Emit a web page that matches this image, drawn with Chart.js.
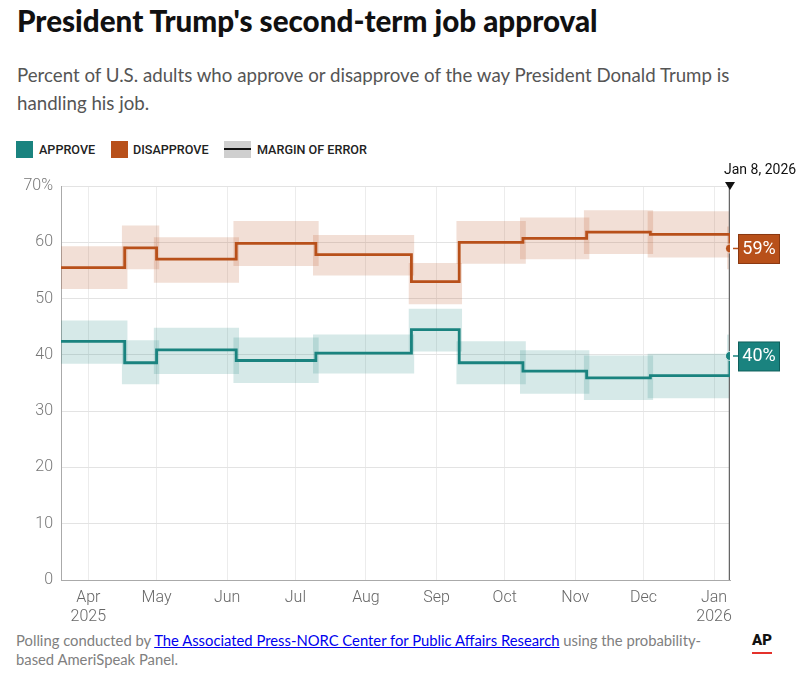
<!DOCTYPE html>
<html>
<head>
<meta charset="utf-8">
<script src="https://cdn.jsdelivr.net/npm/chart.js@4.4.1/dist/chart.umd.min.js"></script>
<style>
  body { margin: 0; width: 807px; height: 676px; position: relative; overflow: hidden; background: #fff; font-family: Lato, "Noto Sans", sans-serif; }
  h1 { position: absolute; left: 17px; top: 3px; margin: 0; font-size: 29.6px; line-height: 36px; font-weight: 900; color: #111; }
  .sub { position: absolute; left: 17px; top: 61px; width: 780px; font-size: 18.7px; line-height: 28px; color: #555; }
  .legend { position: absolute; left: 16px; top: 141px; height: 18px; font-family: Roboto, sans-serif; font-size: 12.6px; font-weight: 500; color: #222; }
  .legend span { position: absolute; top: 0; line-height: 18px; white-space: nowrap; }
  .sw { width: 17px; height: 17px; }
  .moe { width: 27px; height: 17px; background: #cfcfcf; }
  .moe::after { content: ''; position: absolute; left: 0; right: 0; top: 7px; height: 2px; background: #111; }
  #chart { position: absolute; left: 0; top: 162px; }
  .note { position: absolute; left: 16px; top: 631px; font-size: 14.8px; line-height: 19px; color: #808080; white-space: nowrap; }
  .note a { color: #0000ee; }
  .ap { position: absolute; left: 752px; top: 631px; font-family: Roboto, sans-serif; font-weight: 900; font-size: 15px; line-height: 18px; color: #111; }
  .ap::after { content: ''; position: absolute; left: 0; right: 0; top: 21px; height: 2px; background: #e4312b; }
</style>
</head>
<body>
<h1>President Trump's second-term job approval</h1>
<div class="sub">Percent of U.S. adults who approve or disapprove of the way President Donald Trump is<br>handling his job.</div>
<div class="legend">
  <span class="sw" style="left:0; background:#1a837f"></span><span style="left:23px">APPROVE</span>
  <span class="sw" style="left:95px; background:#b8501a"></span><span style="left:117px">DISAPPROVE</span>
  <span class="moe" style="left:208px"></span><span style="left:241px">MARGIN OF ERROR</span>
</div>
<canvas id="chart" width="807" height="468"></canvas>
<div class="note">Polling conducted by <a href="#">The Associated Press-NORC Center for Public Affairs Research</a> using the probability-<br>based AmeriSpeak Panel.</div>
<div class="ap">AP</div>
<script>
// Poll data (field start dates)
const pollDates = ['2025-03-20', '2025-04-17', '2025-05-01', '2025-06-05', '2025-07-10', '2025-08-21',
  '2025-09-11', '2025-10-09', '2025-11-06', '2025-12-04', '2026-01-08'];
const approve = [42.4, 38.6, 40.9, 39.0, 40.3, 44.5, 38.6, 37.1, 35.9, 36.3, 39.8];
const approveLow = [38.4, 34.8, 36.6, 35.0, 36.7, 40.6, 34.8, 33.1, 32.0, 32.3, 36.0];
const approveHigh = [46.1, 42.6, 44.8, 43.1, 43.6, 48.2, 42.4, 40.8, 39.9, 40.2, 43.6];
const disapprove = [55.5, 59.0, 57.0, 59.8, 57.8, 53.0, 60.0, 60.7, 61.8, 61.4, 58.9];
const disapproveLow = [51.7, 55.2, 52.8, 55.8, 54.1, 49.0, 56.2, 57.0, 57.9, 57.3, 55.2];
const disapproveHigh = [59.3, 63.0, 60.9, 63.8, 61.3, 56.3, 63.8, 64.4, 65.7, 65.5, 62.8];

// Axis
const axisStart = '2025-03-20';
const axisEnd = '2026-01-08';
const lastBandEnd = '2026-01-15';
const monthTicks = ['2025-04-01', '2025-05-01', '2025-06-01', '2025-07-01', '2025-08-01', '2025-09-01',
  '2025-10-01', '2025-11-01', '2025-12-01', '2026-01-01'];
const monthLabels = [['Apr', '2025'], 'May', 'Jun', 'Jul', 'Aug', 'Sep', 'Oct', 'Nov', 'Dec', ['Jan', '2026']];
const yTicks = [0, 10, 20, 30, 40, 50, 60, 70];
const endLabel = 'Jan 8, 2026';

const teal = '#1a837f';
const tealDark = '#0f5f5c';
const tealBand = 'rgba(26,131,127,0.18)';
const orange = '#b8501a';
const orangeDark = '#8a3810';
const orangeBand = 'rgba(184,80,26,0.18)';

// days since Jan 1, 2025
const toDay = (s) => (Date.parse(s) - Date.parse('2025-01-01')) / 864e5;
const pollDays = pollDates.map(toDay);
const lastIdx = pollDays.length - 1;
const bandPad = 1.3;

const lineSet = (values, color) => ({
  data: pollDays.map((d, i) => ({ x: d, y: values[i] })),
  borderColor: color,
  backgroundColor: color,
  borderWidth: 2.8,
  stepped: true,
  fill: false,
  pointRadius: (c) => (c.dataIndex === lastIdx ? 4.5 : 0),
  pointBorderColor: 'rgba(255,255,255,0.7)',
  pointBorderWidth: 1,
  order: 0,
});

const bandSets = (low, high, color) => {
  const sets = [];
  pollDays.forEach((d, i) => {
    const x0 = d - bandPad;
    const x1 = i < lastIdx ? pollDays[i + 1] + bandPad : toDay(lastBandEnd);
    sets.push({
      data: [{ x: x0, y: high[i] }, { x: x1, y: high[i] }],
      fill: '+1', backgroundColor: color, borderWidth: 0, pointRadius: 0, order: 3,
    });
    sets.push({
      data: [{ x: x0, y: low[i] }, { x: x1, y: low[i] }],
      fill: false, borderWidth: 0, pointRadius: 0, order: 3,
    });
  });
  return sets;
};

// let the margin bands run a little past the last poll date
const widenClip = {
  id: 'widenClip',
  beforeDatasetsDraw(chart) {
    chart.$right = chart.chartArea.right;
    chart.chartArea.right += 20;
  },
  afterDatasetsDraw(chart) {
    chart.chartArea.right = chart.$right;
  },
};

const annotations = {
  id: 'annotations',
  afterDraw(chart) {
    const { ctx, scales: { x, y } } = chart;
    const xEnd = x.getPixelForValue(toDay(axisEnd));
    ctx.save();
    // date label + marker
    ctx.fillStyle = '#111';
    ctx.font = '14px Roboto';
    ctx.textAlign = 'left';
    ctx.textBaseline = 'middle';
    ctx.fillText(endLabel, xEnd - 6, y.top - 16);
    ctx.beginPath();
    ctx.moveTo(xEnd - 5, y.top - 4);
    ctx.lineTo(xEnd + 5, y.top - 4);
    ctx.lineTo(xEnd, y.top + 4);
    ctx.closePath();
    ctx.fill();
    // value boxes
    ctx.textAlign = 'center';
    [[approve, teal, tealDark], [disapprove, orange, orangeDark]].forEach(([vals, col, dark]) => {
      const v = vals[lastIdx];
      const py = y.getPixelForValue(v);
      ctx.strokeStyle = col;
      ctx.lineWidth = 1.5;
      ctx.beginPath();
      ctx.moveTo(xEnd + 3, py);
      ctx.lineTo(xEnd + 9, py);
      ctx.stroke();
      ctx.fillStyle = col;
      ctx.fillRect(xEnd + 8.5, py - 14, 41, 29);
      ctx.strokeStyle = dark;
      ctx.lineWidth = 1;
      ctx.strokeRect(xEnd + 8.5, py - 14, 41, 29);
      ctx.fillStyle = '#fff';
      ctx.font = '18px Roboto';
      ctx.fillText(Math.round(v) + '%', xEnd + 29, py + 1);
    });
    ctx.restore();
  },
};

new Chart(document.getElementById('chart'), {
  type: 'line',
  data: {
    datasets: [
      lineSet(approve, teal),
      lineSet(disapprove, orange),
      {
        data: [{ x: toDay(axisEnd), y: 0 }, { x: toDay(axisEnd), y: 70 }],
        borderColor: '#666', borderWidth: 2.5, pointRadius: 0, fill: false, order: 1,
      },
      ...bandSets(approveLow, approveHigh, tealBand),
      ...bandSets(disapproveLow, disapproveHigh, orangeBand),
    ],
  },
  options: {
    responsive: false,
    animation: false,
    layout: { padding: { top: 24, right: 77, left: 0, bottom: 0 } },
    scales: {
      x: {
        type: 'linear',
        min: toDay(axisStart),
        max: toDay(axisEnd),
        afterBuildTicks: (s) => { s.ticks = monthTicks.map((m) => ({ value: toDay(m) })); },
        afterFit: (s) => { s.height = 50; },
        grid: { color: '#ececec', drawTicks: false },
        border: { color: '#aaa', width: 1 },
        ticks: {
          padding: 8,
          color: '#666',
          font: { family: 'Roboto', size: 16, weight: 300, lineHeight: 1.2 },
          maxRotation: 0,
          callback: (v, i) => monthLabels[i],
        },
      },
      y: {
        min: 0,
        max: 70,
        afterBuildTicks: (s) => { s.ticks = yTicks.map((v) => ({ value: v })); },
        afterFit: (s) => { s.width = 61; },
        grid: { color: '#e3e3e3', drawTicks: false },
        border: { color: '#aaa', width: 1 },
        ticks: {
          padding: 8,
          color: '#777',
          font: { family: 'Roboto', size: 16, weight: 300 },
          callback: (v) => (v === 70 ? v + '%' : v),
        },
      },
    },
    plugins: {
      legend: { display: false },
      tooltip: { enabled: false },
    },
  },
  plugins: [widenClip, annotations],
});
</script>
</body>
</html>
